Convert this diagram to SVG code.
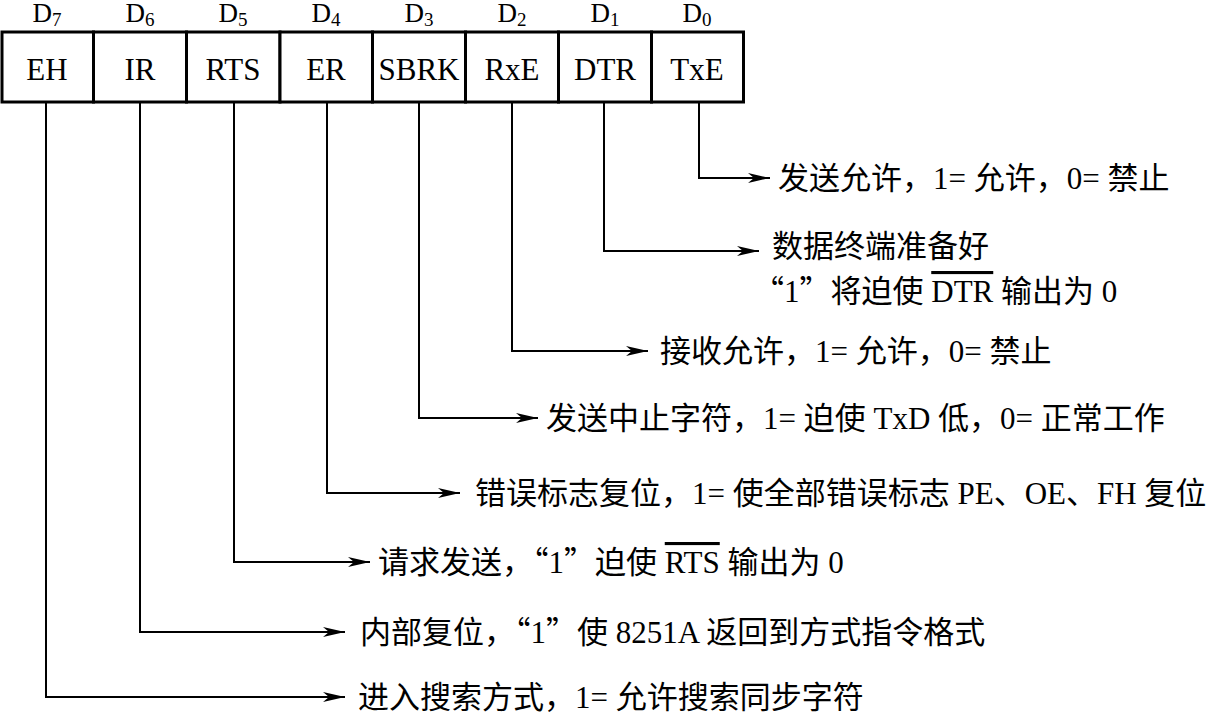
<svg xmlns="http://www.w3.org/2000/svg" width="1211" height="713" viewBox="0 0 1211 713">
<defs>
<marker id="ah" viewBox="0 0 22 10" refX="22" refY="5" markerWidth="22" markerHeight="10" markerUnits="userSpaceOnUse" orient="auto">
<path d="M0,0 L22,5 L0,10 L6,5 Z" fill="#000"/>
</marker>
<style>
.cell{fill:#fff;stroke:#000;stroke-width:3}
.lbl{font-family:"Liberation Serif","Noto Sans CJK SC",serif;font-size:31px;fill:#000;text-anchor:middle}
.hd{font-family:"Liberation Serif",serif;font-size:27px;fill:#000;text-anchor:middle}
.sub{font-size:19px}
.t{font-family:"Liberation Serif","Noto Sans CJK SC",serif;font-size:31px;fill:#000}
.q{font-family:"Noto Sans CJK SC",sans-serif}
.c{fill:none;stroke:#000;stroke-width:2;marker-end:url(#ah)}
.ov{text-decoration:overline}
</style>
</defs>
<rect width="1211" height="713" fill="#fff"/>
<g id="register">
<g id="bit7"><rect class="cell" x="2" y="32" width="91.5" height="70"/><text class="hd" x="47" y="22">D<tspan class="sub" dy="4">7</tspan></text><text class="lbl" x="47" y="80">EH</text></g>
<g id="bit6"><rect class="cell" x="93.5" y="32" width="93" height="70"/><text class="hd" x="140" y="22">D<tspan class="sub" dy="4">6</tspan></text><text class="lbl" x="140" y="80">IR</text></g>
<g id="bit5"><rect class="cell" x="186.5" y="32" width="93.5" height="70"/><text class="hd" x="233" y="22">D<tspan class="sub" dy="4">5</tspan></text><text class="lbl" x="233" y="80">RTS</text></g>
<g id="bit4"><rect class="cell" x="280" y="32" width="92.5" height="70"/><text class="hd" x="326" y="22">D<tspan class="sub" dy="4">4</tspan></text><text class="lbl" x="326" y="80">ER</text></g>
<g id="bit3"><rect class="cell" x="372.5" y="32" width="93" height="70"/><text class="hd" x="419" y="22">D<tspan class="sub" dy="4">3</tspan></text><text class="lbl" x="419" y="80">SBRK</text></g>
<g id="bit2"><rect class="cell" x="465.5" y="32" width="93" height="70"/><text class="hd" x="512" y="22">D<tspan class="sub" dy="4">2</tspan></text><text class="lbl" x="512" y="80">RxE</text></g>
<g id="bit1"><rect class="cell" x="558.5" y="32" width="93" height="70"/><text class="hd" x="605" y="22">D<tspan class="sub" dy="4">1</tspan></text><text class="lbl" x="605" y="80">DTR</text></g>
<g id="bit0"><rect class="cell" x="651.5" y="32" width="92" height="70"/><text class="hd" x="697" y="22">D<tspan class="sub" dy="4">0</tspan></text><text class="lbl" x="697" y="80">TxE</text></g>
</g>
<g id="connectors">
<polyline class="c" points="699,102 699,178 770,178"/>
<polyline class="c" points="604,102 604,251 759,251"/>
<polyline class="c" points="512,102 512,351 648,351"/>
<polyline class="c" points="419,102 419,418 538,418"/>
<polyline class="c" points="327,102 327,493 460,493"/>
<polyline class="c" points="234,102 234,562 370,562"/>
<polyline class="c" points="140,102 140,632 345,632"/>
<polyline class="c" points="46,102 46,697 345,697"/>
</g>
<g id="desc0"><text class="t" x="778" y="189">发送允许，1= 允许，0= 禁止</text></g>
<g id="desc1"><text class="t" x="772" y="257">数据终端准备好</text><text class="t" x="753" y="302"><tspan class="q">“</tspan>1<tspan class="q">”</tspan>将迫使 <tspan class="ov">DTR</tspan> 输出为 0</text></g>
<g id="desc2"><text class="t" x="660" y="362">接收允许，1= 允许，0= 禁止</text></g>
<g id="desc3"><text class="t" x="546" y="429">发送中止字符，1= 迫使 TxD 低，0= 正常工作</text></g>
<g id="desc4"><text class="t" x="475" y="504">错误标志复位，1= 使全部错误标志 PE、OE、FH 复位</text></g>
<g id="desc5"><text class="t" x="378" y="573">请求发送，<tspan class="q">“</tspan>1<tspan class="q">”</tspan>迫使 <tspan class="ov">RTS</tspan> 输出为 0</text></g>
<g id="desc6"><text class="t" x="360" y="643">内部复位，<tspan class="q">“</tspan>1<tspan class="q">”</tspan>使 8251A 返回到方式指令格式</text></g>
<g id="desc7"><text class="t" x="358" y="708">进入搜索方式，1= 允许搜索同步字符</text></g>
</svg>
